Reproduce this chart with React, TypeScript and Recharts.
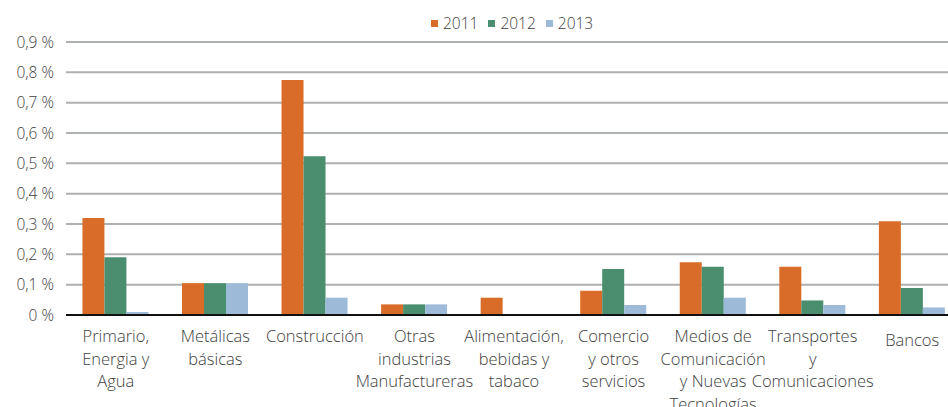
import { Bar, BarChart, CartesianGrid, Legend, XAxis, YAxis } from "recharts";

const categories = [
  ["Primario,", "Energia y", "Agua"],
  ["Metálicas", "básicas"],
  ["Construcción"],
  ["Otras", "industrias", "Manufactureras"],
  ["Alimentación,", "bebidas y", "tabaco"],
  ["Comercio", "y otros", "servicios"],
  ["Medios de", "Comunicación", "y Nuevas", "Tecnologías"],
  ["Transportes", "y", "Comunicaciones"],
  ["Bancos"],
];

const v2011 = [0.32, 0.105, 0.775, 0.035, 0.057, 0.08, 0.174, 0.159, 0.309];
const v2012 = [0.19, 0.105, 0.523, 0.035, 0, 0.152, 0.159, 0.048, 0.089];
const v2013 = [0.01, 0.105, 0.057, 0.035, 0, 0.033, 0.057, 0.033, 0.025];

const yTicks = [0, 0.1, 0.2, 0.3, 0.4, 0.5, 0.6, 0.7, 0.8, 0.9];

const series = [
  { key: "y2011", name: "2011", color: "#D96C28" },
  { key: "y2012", name: "2012", color: "#4A8D6F" },
  { key: "y2013", name: "2013", color: "#9DBAD9" },
];

const data = categories.map((lines, i) => ({
  name: lines.join(" "),
  y2011: v2011[i],
  y2012: v2012[i],
  y2013: v2013[i],
}));

const FONT = "'Open Sans', 'Noto Sans', sans-serif";
const INK = "#404040";

const fmtPct = (v: number) => (v === 0 ? "0 %" : v.toFixed(1).replace(".", ",") + " %");

function CategoryTick(props: any) {
  const { x, y, index } = props;
  const lines = categories[index] ?? [];
  // single-line "Bancos" sits a little lower in the original
  const first = lines.length === 1 && index === categories.length - 1 ? 23 : 19;
  return (
    <text x={x} y={y} textAnchor="middle" fill={INK} fontFamily={FONT} fontSize={16.5} fontWeight={300}>
      {lines.map((l, i) => (
        <tspan key={i} x={x} dy={i === 0 ? first : 22.5}>
          {l}
        </tspan>
      ))}
    </text>
  );
}

function LegendBox() {
  return (
    <div style={{ display: "flex", alignItems: "center", fontFamily: FONT, fontSize: 15.5, fontWeight: 300, color: INK }}>
      {series.map((s) => (
        <span key={s.key} style={{ display: "flex", alignItems: "center", marginRight: 10 }}>
          <span style={{ width: 7, height: 7, background: s.color, display: "inline-block", marginRight: 5 }} />
          {s.name}
        </span>
      ))}
    </div>
  );
}

export default function App() {
  return (
    <div style={{ position: "absolute", left: 0, top: 0, width: 948, height: 407, overflow: "hidden", background: "#fff" }}>
      <BarChart
        width={962}
        height={407}
        data={data}
        margin={{ top: 22, right: 0, bottom: 0, left: 0 }}
        barCategoryGap="16.5%"
        barGap={0}
      >
        <CartesianGrid vertical={false} stroke="#AEB1B1" strokeWidth={2} />
        <XAxis
          dataKey="name"
          interval={0}
          height={92}
          tickLine={false}
          axisLine={{ stroke: "#111", strokeWidth: 2 }}
          tick={<CategoryTick />}
        />
        <YAxis
          width={66}
          domain={[0, 0.9]}
          ticks={yTicks}
          tickFormatter={fmtPct}
          axisLine={false}
          tickLine={false}
          tickMargin={6}
          tick={{ fill: INK, fontFamily: FONT, fontSize: 15.5, fontWeight: 300 }}
        />
        <Legend
          verticalAlign="top"
          content={<LegendBox />}
          wrapperStyle={{ position: "absolute", top: 12, left: 431, width: 200, height: 20 }}
        />
        {series.map((s) => (
          <Bar key={s.key} dataKey={s.key} name={s.name} fill={s.color} isAnimationActive={false} />
        ))}
      </BarChart>
    </div>
  );
}
